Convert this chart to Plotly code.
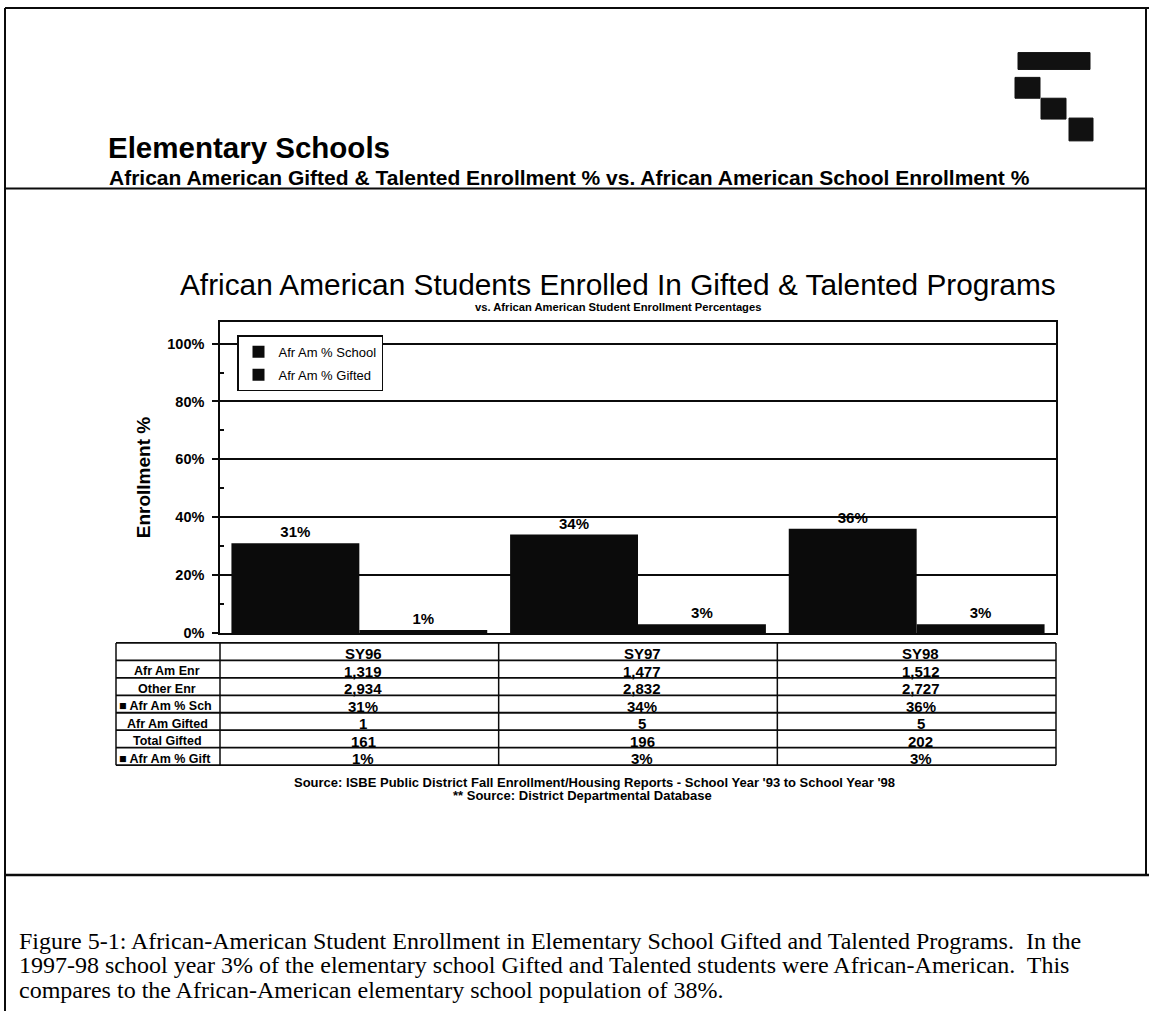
import plotly.graph_objects as go

# ---- data -------------------------------------------------------------
years = ["SY96", "SY97", "SY98"]
afr_am_enr = [1319, 1477, 1512]
other_enr = [2934, 2832, 2727]
pct_school = [31, 34, 36]
afr_am_gifted = [1, 5, 5]
total_gifted = [161, 196, 202]
pct_gifted = [1, 3, 3]

row_labels = ["Afr Am Enr", "Other Enr", "\u25a0 Afr Am % Sch",
              "Afr Am Gifted", "Total Gifted", "\u25a0 Afr Am % Gift"]
y_ticks = [0, 20, 40, 60, 80, 100]
y_tick_text = [f"{v}%" for v in y_ticks]
y_minor = [10, 30, 50, 70, 90]

caption_lines = [
    "Figure 5-1: African-American Student Enrollment in Elementary School Gifted and Talented Programs.  In the",
    "1997-98 school year 3% of the elementary school Gifted and Talented students were African-American.  This",
    "compares to the African-American elementary school population of 38%.",
]

# ---- page geometry (pixels) ------------------------------------------
W, H = 1149, 1019
SANS = "Liberation Sans, Arial, sans-serif"
SERIF = "Liberation Serif, Times New Roman, serif"
INK = "#0b0b0b"


def px(x):
    return x / W


def py(y):
    return 1 - y / H


PLOT_L, PLOT_R, PLOT_T, PLOT_B = 220, 1056, 325, 638
Y_MAX = 107.3
TABLE_L, TABLE_T, ROW_H = 116, 648, 17.6

fig = go.Figure()

bar_font = dict(family=SANS, size=15, color="black", weight="bold")
fig.add_trace(go.Bar(
    x=years, y=pct_school, name="Afr Am % School", legendgroup="school",
    marker=dict(color=INK, line=dict(width=0)),
    text=[f"{v}%" for v in pct_school], textposition="outside",
    textfont=bar_font, cliponaxis=False,
))
fig.add_trace(go.Bar(
    x=years, y=pct_gifted, name="Afr Am % Gifted", legendgroup="gifted",
    marker=dict(color=INK, line=dict(width=0)),
    text=[f"{v}%" for v in pct_gifted], textposition="outside",
    textfont=bar_font, cliponaxis=False,
))

shapes = []
annotations = []


def line(x0, y0, x1, y1, w=1.5):
    shapes.append(dict(type="line", xref="paper", yref="paper",
                       x0=px(x0), y0=py(y0), x1=px(x1), y1=py(y1),
                       line=dict(color=INK, width=w)))


def text(x, y, s, size, family=SANS, weight="normal", xanchor="center",
         yanchor="middle", textangle=0):
    annotations.append(dict(xref="paper", yref="paper", x=px(x), y=py(y),
                            text=s, showarrow=False, xanchor=xanchor,
                            yanchor=yanchor, textangle=textangle,
                            font=dict(family=family, size=size, color="black",
                                      weight=weight)))


# page frame
line(5, 8, 1149, 8, 2)
line(5, 8, 5, 1019, 2)
line(1146, 8, 1146, 882, 2)
line(5, 190, 1146, 190, 2)
line(5, 882, 1149, 882, 2.5)

# corner logo blocks
for (x0, y0, x1, y1) in [(1018, 53, 1090, 70), (1015, 78, 1040, 99),
                         (1041, 99, 1066, 120), (1069, 119, 1093, 142)]:
    shapes.append(dict(type="rect", xref="paper", yref="paper",
                       x0=px(x0), y0=py(y1), x1=px(x1), y1=py(y0),
                       fillcolor="#111", line=dict(color="#111", width=1)))

# headings
text(106, 149, "Elementary Schools", 29.5, weight="bold", xanchor="left")
text(107, 179, "African American Gifted &amp; Talented Enrollment % vs. "
     "African American School Enrollment %", 21, weight="bold", xanchor="left")
text(618, 287, "African American Students Enrolled In Gifted &amp; Talented Programs", 29.8)
text(618, 309, "vs. African American Student Enrollment Percentages", 11.2,
     weight="bold")
text(143, 481, "Enrollment %", 19, weight="bold", textangle=-90)

# data table under the chart
col_w = (PLOT_R - PLOT_L) / len(years)
col_edges = [TABLE_L] + [PLOT_L + i * col_w for i in range(len(years) + 1)]
table_rows = [
    [f"{v:,}" for v in afr_am_enr],
    [f"{v:,}" for v in other_enr],
    [f"{v}%" for v in pct_school],
    [f"{v:,}" for v in afr_am_gifted],
    [f"{v:,}" for v in total_gifted],
    [f"{v}%" for v in pct_gifted],
]
n_rows = len(table_rows) + 1
table_b = TABLE_T + n_rows * ROW_H
for r in range(n_rows + 1):
    line(TABLE_L, TABLE_T + r * ROW_H, PLOT_R, TABLE_T + r * ROW_H, 1.8)
for xe in col_edges:
    line(xe, TABLE_T, xe, table_b, 1.5)

VAL_SIZE = 15
for j, yr in enumerate(years):
    cx = PLOT_L + (j + 0.5) * col_w + 4
    text(cx, TABLE_T + ROW_H - 6.5, yr, VAL_SIZE, weight="bold")
for i, (lab, vals) in enumerate(zip(row_labels, table_rows)):
    cy = TABLE_T + (i + 2) * ROW_H - 6.5
    if lab.startswith("\u25a0"):
        text(TABLE_L + 1, cy, lab, 12.5, weight="bold", xanchor="left")
    else:
        text(167, cy, lab, 12.5, weight="bold")
    for j, v in enumerate(vals):
        cx = PLOT_L + (j + 0.5) * col_w + 4
        text(cx, cy, v, VAL_SIZE, weight="bold")

# sources
text(594, 789, "Source: ISBE Public District Fall Enrollment/Housing Reports - "
     "School Year '93 to School Year '98", 13, weight="bold")
text(582, 802, "** Source: District Departmental Database", 13, weight="bold")

# figure caption
for k, s in enumerate(caption_lines):
    text(17, 948 + k * 24.8, s, 24, family=SERIF, xanchor="left")

fig.update_layout(
    width=W, height=H, autosize=False,
    margin=dict(l=0, r=0, t=0, b=0),
    paper_bgcolor="white", plot_bgcolor="white",
    barmode="group", bargap=0.082, bargroupgap=0,
    showlegend=True,
    legend=dict(x=px(237), y=py(338), xanchor="left", yanchor="top",
                bgcolor="white", bordercolor=INK, borderwidth=1.5,
                font=dict(family=SANS, size=13, color="black"),
                traceorder="grouped", tracegroupgap=3,
                itemclick=False, itemdoubleclick=False),
    xaxis=dict(domain=[px(PLOT_L), px(PLOT_R)], showticklabels=False,
               ticks="", showgrid=False, zeroline=False,
               showline=True, mirror=True, linecolor=INK, linewidth=1.5),
    yaxis=dict(domain=[py(PLOT_B), py(PLOT_T)], range=[0, Y_MAX],
               tickvals=y_ticks, ticktext=y_tick_text,
               ticks="outside", ticklen=6, tickwidth=1.5, tickcolor=INK,
               ticklabelstandoff=5,
               tickfont=dict(family=SANS, size=14.5, color="black", weight="bold"),
               showgrid=True, gridcolor=INK, gridwidth=1.5, zeroline=False,
               showline=True, mirror=True, linecolor=INK, linewidth=1.5,
               minor=dict(tickvals=y_minor, ticks="inside", ticklen=4,
                          tickwidth=1.5, tickcolor=INK, showgrid=False)),
    shapes=shapes,
    annotations=annotations,
)

fig.write_html("out.html")
